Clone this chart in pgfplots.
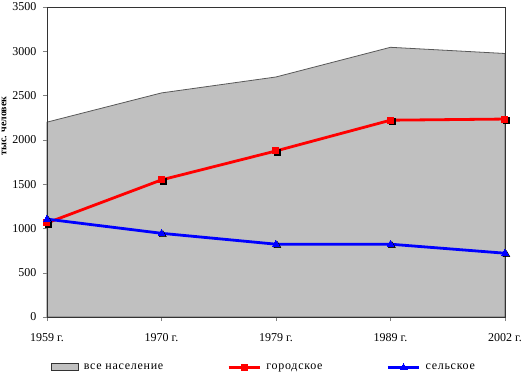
\documentclass[border=0pt]{standalone}
\usepackage{pgfplots}
\pgfplotsset{compat=1.18}
\usepackage{fontspec}
\setmainfont{Liberation Serif}
\definecolor{areagray}{HTML}{C0C0C0}
\definecolor{redl}{HTML}{FF0000}
\definecolor{bluel}{HTML}{0000FF}
\begin{document}
\begin{tikzpicture}
\begin{axis}[
  scale only axis,
  width=458pt, height=310pt,
  xmin=0, xmax=4, ymin=0, ymax=3500,
  xtick={0,1,2,3,4},
  xticklabels={1959 г.,1970 г.,1979 г.,1989 г.,2002 г.},
  ytick={0,500,1000,1500,2000,2500,3000,3500},
  /pgf/number format/assume math mode=true,
  /pgf/number format/1000 sep={},
  tick label style={font=\fontsize{12}{14}\selectfont},
  yticklabel style={xshift=-3pt},
  tick align=outside,
  tick pos=left,
  major tick length=4pt,
  axis line style={black!80, line width=0.8pt},
  xticklabel style={yshift=-9pt},
  clip=false,
  axis on top,
  legend columns=3,
  legend style={at={(0.474,-0.138)}, anchor=north, draw=none, fill=none,
    font=\fontsize{12}{14}\selectfont\addfontfeature{LetterSpace=6},
    /tikz/every odd column/.append style={column sep=3pt},
    /tikz/every even column/.append style={column sep=62pt}},
]
\addplot[fill=areagray, draw=black!65, line width=0.8pt,
  area legend,
  legend image code/.code={\draw[fill=areagray, draw=black!80, line width=0.6pt] (0cm,-0.1cm) rectangle (0.95cm,0.15cm);}]
  coordinates {(0,2200) (1,2530) (2,2710) (3,3045) (4,2975)} \closedcycle;
\addlegendentry{все население}

\addplot[only marks, mark=square*, black, mark size=3pt, forget plot,
  mark options={xshift=1.4pt, yshift=-1.4pt}]
  coordinates {(0,1062) (1,1548) (2,1875) (3,2222) (4,2235)};
\addplot[only marks, mark=triangle*, black, mark size=4pt, forget plot,
  mark options={xshift=1.4pt, yshift=-1.4pt}]
  coordinates {(0,1105) (1,945) (2,822) (3,822) (4,720)};

\addplot[redl, line width=2.8pt, mark=square*, mark size=3pt,
  mark options={solid, fill=redl, draw=redl, line width=0pt},
  legend image code/.code={\draw[mark repeat=2,mark phase=2] plot coordinates {(0cm,0cm) (0.55cm,0cm) (1.1cm,0cm)};}]
  coordinates {(0,1062) (1,1548) (2,1875) (3,2222) (4,2235)};
\addlegendentry{городское}

\addplot[bluel, line width=2.8pt, mark=triangle*, mark size=4pt,
  mark options={solid, fill=bluel, draw=bluel, line width=0pt},
  legend image code/.code={\draw[mark repeat=2,mark phase=2] plot coordinates {(0cm,0cm) (0.55cm,0cm) (1.1cm,0cm)};}]
  coordinates {(0,1105) (1,945) (2,822) (3,822) (4,720)};
\addlegendentry{сельское}

\coordinate (bl) at (rel axis cs:0,0);
\coordinate (tr) at (rel axis cs:1,1);
\coordinate (yl) at (rel axis cs:0,0.616);
\end{axis}
\node[rotate=90, anchor=north, font=\fontsize{10}{11}\selectfont\bfseries, inner sep=0pt]
  at ([xshift=-45.5pt]yl) {тыс. человек};
\pgfresetboundingbox
\path[use as bounding box] ([xshift=-47pt,yshift=-58pt]bl) rectangle ([xshift=17pt,yshift=7pt]tr);
\end{tikzpicture}
\end{document}
